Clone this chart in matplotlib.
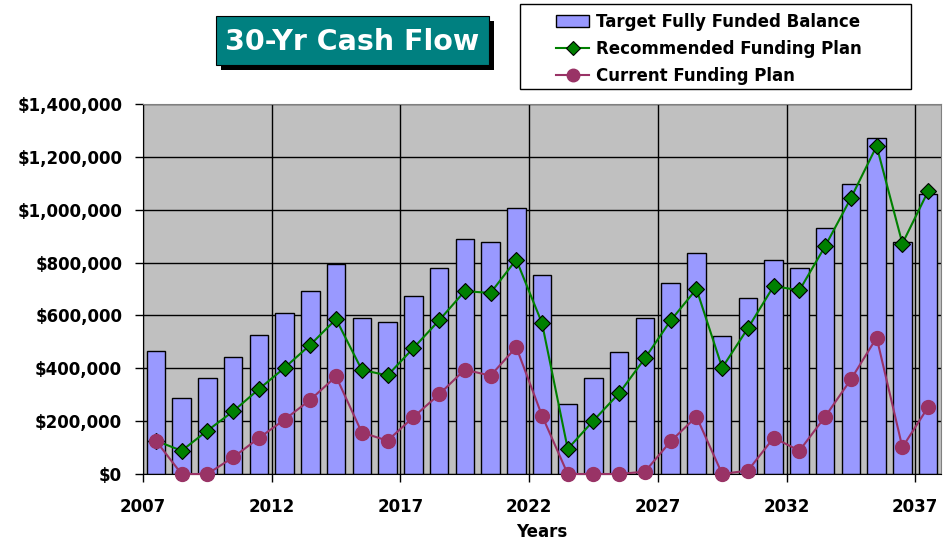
"""
30-year cash flow chart: target balance bars with two funding plan lines
"""

import numpy as np
import matplotlib.pyplot as plt
from matplotlib.patches import Rectangle
from matplotlib.lines import Line2D
from matplotlib.ticker import FuncFormatter

# data (dollars, thousands)
years = np.arange(2007, 2038)
target = [465, 287, 364, 441, 527, 610, 692, 796, 591, 575, 673, 781, 888, 878, 1005,
          753, 263, 364, 461, 591, 724, 836, 523, 665, 808, 780, 931, 1096, 1272, 878, 1058]
recommended = [126, 88, 164, 237, 321, 402, 489, 586, 394, 373, 476, 581, 692, 685, 811,
               571, 95, 202, 306, 438, 581, 700, 402, 552, 711, 695, 862, 1044, 1241, 872, 1070]
current = [126, 0, 0, 63, 136, 206, 281, 369, 157, 126, 215, 301, 395, 372, 480,
           221, 0, 0, 0, 9, 124, 217, 0, 13, 137, 88, 217, 358, 516, 101, 253]
tick_years = [2007, 2012, 2017, 2022, 2027, 2032, 2037]

target = np.array(target) * 1000
recommended = np.array(recommended) * 1000
current = np.array(current) * 1000

W, H = 952, 544
plt.rcParams['font.family'] = ['DejaVu Sans']
plt.rcParams['font.weight'] = 'bold'
fs = 12

fig = plt.figure(figsize=(W / 100, H / 100), dpi=100)

def fx(px):
    return px / W

def fy(py):
    # py measured from the top
    return 1 - py / H

# plot area in pixels
left, right, top, bottom = 143, 941, 104, 474
ax = fig.add_axes([fx(left), fy(bottom), fx(right - left), (bottom - top) / H])
ax.set_facecolor('#C0C0C0')
ax.set_axisbelow(True)

x = years + 0.5
ax.bar(x, target, width=0.72, color='#9999FF', edgecolor='black', linewidth=1.0, zorder=2)
ax.plot(x, recommended, color='#008000', lw=1.5, marker='D', markersize=8,
        markerfacecolor='#008000', markeredgecolor='black', markeredgewidth=0.8, zorder=3)
ax.plot(x, current, color='#993366', lw=1.5, marker='o', markersize=10,
        markerfacecolor='#993366', markeredgecolor='#993366', zorder=4, clip_on=False)

ax.set_xlim(2007, 2038)
ax.set_ylim(0, 1400000)
ax.set_yticks(np.arange(0, 1400001, 200000))
ax.yaxis.set_major_formatter(FuncFormatter(lambda v, p: f'${v:,.0f}'))
ax.set_xticks(tick_years)
ax.grid(True, color='black', lw=1.0)
ax.tick_params(axis='y', length=6, width=1, pad=9, labelsize=fs)
ax.tick_params(axis='x', length=6, width=1, pad=11, labelsize=fs)
for lab in ax.get_xticklabels() + ax.get_yticklabels():
    lab.set_fontweight('bold')
ax.set_xlabel('Years', fontsize=fs, fontweight='bold', labelpad=5)

for s in ['top', 'right']:
    ax.spines[s].set_color('#808080')
for s in ['left', 'bottom']:
    ax.spines[s].set_color('black')

# title box with drop shadow
bx0, bx1, by0, by1 = 216, 489, 16, 65
fig.patches.append(Rectangle((fx(bx0 + 5), fy(by1 + 5)), fx(bx1 - bx0), (by1 - by0) / H,
                             transform=fig.transFigure, facecolor='black', edgecolor='none'))
fig.patches.append(Rectangle((fx(bx0), fy(by1)), fx(bx1 - bx0), (by1 - by0) / H,
                             transform=fig.transFigure, facecolor='#008080', edgecolor='black', lw=0.8))
fig.text(fx((bx0 + bx1) / 2), fy((by0 + by1) / 2 + 1), '30-Yr Cash Flow', color='white',
         fontsize=20.5, fontweight='bold', ha='center', va='center')

# legend frame
lx0, lx1, ly0, ly1 = 520, 911, 4, 89
fig.patches.append(Rectangle((fx(lx0), fy(ly1)), fx(lx1 - lx0), (ly1 - ly0) / H,
                             transform=fig.transFigure, facecolor='white', edgecolor='black', lw=1.0))
handles = [
    Rectangle((0, 0), 1, 1, facecolor='#9999FF', edgecolor='black', lw=1.0),
    Line2D([], [], color='#008000', lw=1.5, marker='D', markersize=7,
           markerfacecolor='#008000', markeredgecolor='black', markeredgewidth=0.8),
    Line2D([], [], color='#993366', lw=1.5, marker='o', markersize=9, markerfacecolor='#993366'),
]
labels = ['Target Fully Funded Balance', 'Recommended Funding Plan', 'Current Funding Plan']
fig.legend(handles, labels, loc='upper left', bbox_to_anchor=(fx(556), fy(13)),
           frameon=False, borderpad=0, borderaxespad=0,
           handlelength=2.0, handleheight=0.7, handletextpad=0.4, labelspacing=0.54,
           prop={'weight': 'bold', 'size': fs})

fig.savefig('out.png', dpi=100)
